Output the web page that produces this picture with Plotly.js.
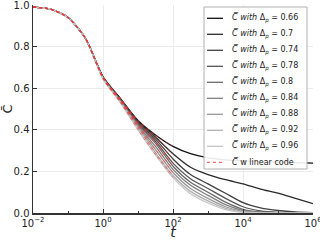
<!DOCTYPE html>
<html><head><meta charset="utf-8">
<script src="https://cdn.plot.ly/plotly-3.0.1.min.js"></script>
<style>html,body{margin:0;padding:0;background:#fff}#chart{width:320px;height:240px}</style>
</head><body><div id="chart"></div>
<script>
// log10(t) sample positions
const logT = [-2,-1.5,-1,-0.5,0,0.5,1,1.5,2,2.5,3,3.5,4,4.5,5,5.5,6];
const deltas = [0.66,0.7,0.74,0.78,0.8,0.84,0.88,0.92,0.96];
const c066 = [0.99,0.98,0.94,0.84,0.655,0.55,0.445,0.375,0.32,0.285,0.265,0.255,0.25,0.247,0.245,0.242,0.24];
const c070 = [0.99,0.98,0.94,0.84,0.653,0.548,0.44,0.365,0.285,0.22,0.185,0.16,0.14,0.115,0.095,0.07,0.045];
const c074 = [0.99,0.98,0.94,0.84,0.652,0.545,0.435,0.355,0.26,0.185,0.14,0.095,0.05,0.025,0.012,0.005,0.002];
const c078 = [0.99,0.98,0.94,0.84,0.651,0.543,0.43,0.345,0.24,0.165,0.118,0.07,0.03,0.01,0.003,0.001,0];
const c080 = [0.99,0.98,0.94,0.84,0.65,0.54,0.425,0.335,0.225,0.148,0.10,0.052,0.018,0.005,0.001,0,0];
const c084 = [0.99,0.98,0.94,0.84,0.649,0.538,0.42,0.32,0.21,0.133,0.085,0.04,0.012,0.003,0,0,0];
const c088 = [0.99,0.98,0.94,0.84,0.648,0.535,0.415,0.305,0.195,0.118,0.07,0.03,0.008,0.002,0,0,0];
const c092 = [0.99,0.98,0.94,0.84,0.647,0.533,0.41,0.29,0.18,0.104,0.058,0.022,0.005,0.001,0,0,0];
const c096 = [0.99,0.98,0.94,0.84,0.645,0.53,0.40,0.28,0.17,0.093,0.048,0.016,0.003,0.001,0,0,0];
const series = [c066,c070,c074,c078,c080,c084,c088,c092,c096];
const colors = ['#111111','#2a2a2a','#404040','#555555','#6b6b6b','#828282','#999999','#b0b0b0','#c6c6c6'];
const linearMaxLogT = 2;
const labels = deltas.map(d => '<i>C\u0305 with</i> \u0394<sub><i>p</i></sub> = ' + d);
const linearLabel = '<i>C\u0305</i> w linear code';
const red = '#ee3333';

const tVals = logT.map(v => Math.pow(10, v));
const traces = [];
series.forEach((ys, i) => {
  traces.push({
    x: tVals, y: ys, type: 'scatter', mode: 'lines',
    line: {color: colors[i], width: 1.3, shape: 'spline', smoothing: 0.7},
    name: labels[i], showlegend: false
  });
});
series.forEach((ys, i) => {
  const xs = [], yy = [];
  logT.forEach((l, k) => { if (l <= linearMaxLogT) { xs.push(tVals[k]); yy.push(ys[k]); } });
  traces.push({
    x: xs, y: yy, type: 'scatter', mode: 'lines', opacity: 0.8,
    line: {color: red, width: 0.7, dash: 'dot', shape: 'spline', smoothing: 0.7},
    name: linearLabel, showlegend: false
  });
});

// compact legend (matplotlib style) built in paper coordinates
const W = 320, H = 240, M = {l: 33, r: 7, t: 5, b: 27};
const pw = W - M.l - M.r, ph = H - M.t - M.b;
const px = x => (x - M.l) / pw;
const py = y => (H - M.b - y) / ph;
const shapes = [{type: 'rect', xref: 'paper', yref: 'paper', x0: px(204), x1: px(307), y0: py(169), y1: py(7),
  fillcolor: 'rgba(255,255,255,0.9)', line: {color: '#b0b0b0', width: 1}, layer: 'above'}];
const annotations = [];
const entries = labels.map((t, i) => ({text: t, color: colors[i], dash: 'solid'}));
entries.push({text: linearLabel, color: red, dash: 'dot'});
entries.forEach((e, k) => {
  const yc = 18.3 + 16 * k;
  shapes.push({type: 'line', xref: 'paper', yref: 'paper', x0: px(207), x1: px(223), y0: py(yc), y1: py(yc),
    line: {color: e.color, width: e.dash === 'dot' ? 0.9 : 1.3, dash: e.dash}, layer: 'above'});
  annotations.push({xref: 'paper', yref: 'paper', x: px(230), y: py(yc), xanchor: 'left', yanchor: 'middle',
    text: e.text, showarrow: false, font: {family: 'DejaVu Sans', size: 8, color: '#222'}});
});

const layout = {
  width: W, height: H, margin: M,
  paper_bgcolor: '#fff', plot_bgcolor: '#fff',
  font: {family: 'DejaVu Sans', size: 10, color: '#222'},
  showlegend: false, shapes: shapes, annotations: annotations,
  xaxis: {type: 'log', range: [-2, 6],
    tickvals: [0.01, 1, 100, 1e4, 1e6],
    ticktext: ['10<sup>\u22122</sup>','10<sup>0</sup>','10<sup>2</sup>','10<sup>4</sup>','10<sup>6</sup>'],
    ticklabeloverflow: 'allow',
    ticks: 'inside', ticklen: 4, tickcolor: '#333',
    minor: {tickvals: [0.1, 10, 1000, 1e5], ticks: 'inside', ticklen: 2, tickcolor: '#333', showgrid: false},
    showgrid: true, gridcolor: '#ebebeb', gridwidth: 1,
    showline: true, linecolor: '#333', linewidth: 1.5, zeroline: false,
    title: {text: '<i>t</i>', font: {size: 14}, standoff: 1}},
  yaxis: {range: [0, 1.0], tickvals: [0,0.2,0.4,0.6,0.8,1.0],
    ticktext: ['0.0','0.2','0.4','0.6','0.8','1.0'],
    ticklabeloverflow: 'allow',
    ticks: 'inside', ticklen: 4, tickcolor: '#333',
    showgrid: true, gridcolor: '#ebebeb', gridwidth: 1,
    showline: true, linecolor: '#333', linewidth: 1.5, zeroline: false,
    title: {text: 'C\u0304', font: {size: 13}, standoff: 6}}
};
Plotly.newPlot('chart', traces, layout, {staticPlot: true, displayModeBar: false});
</script></body></html>
